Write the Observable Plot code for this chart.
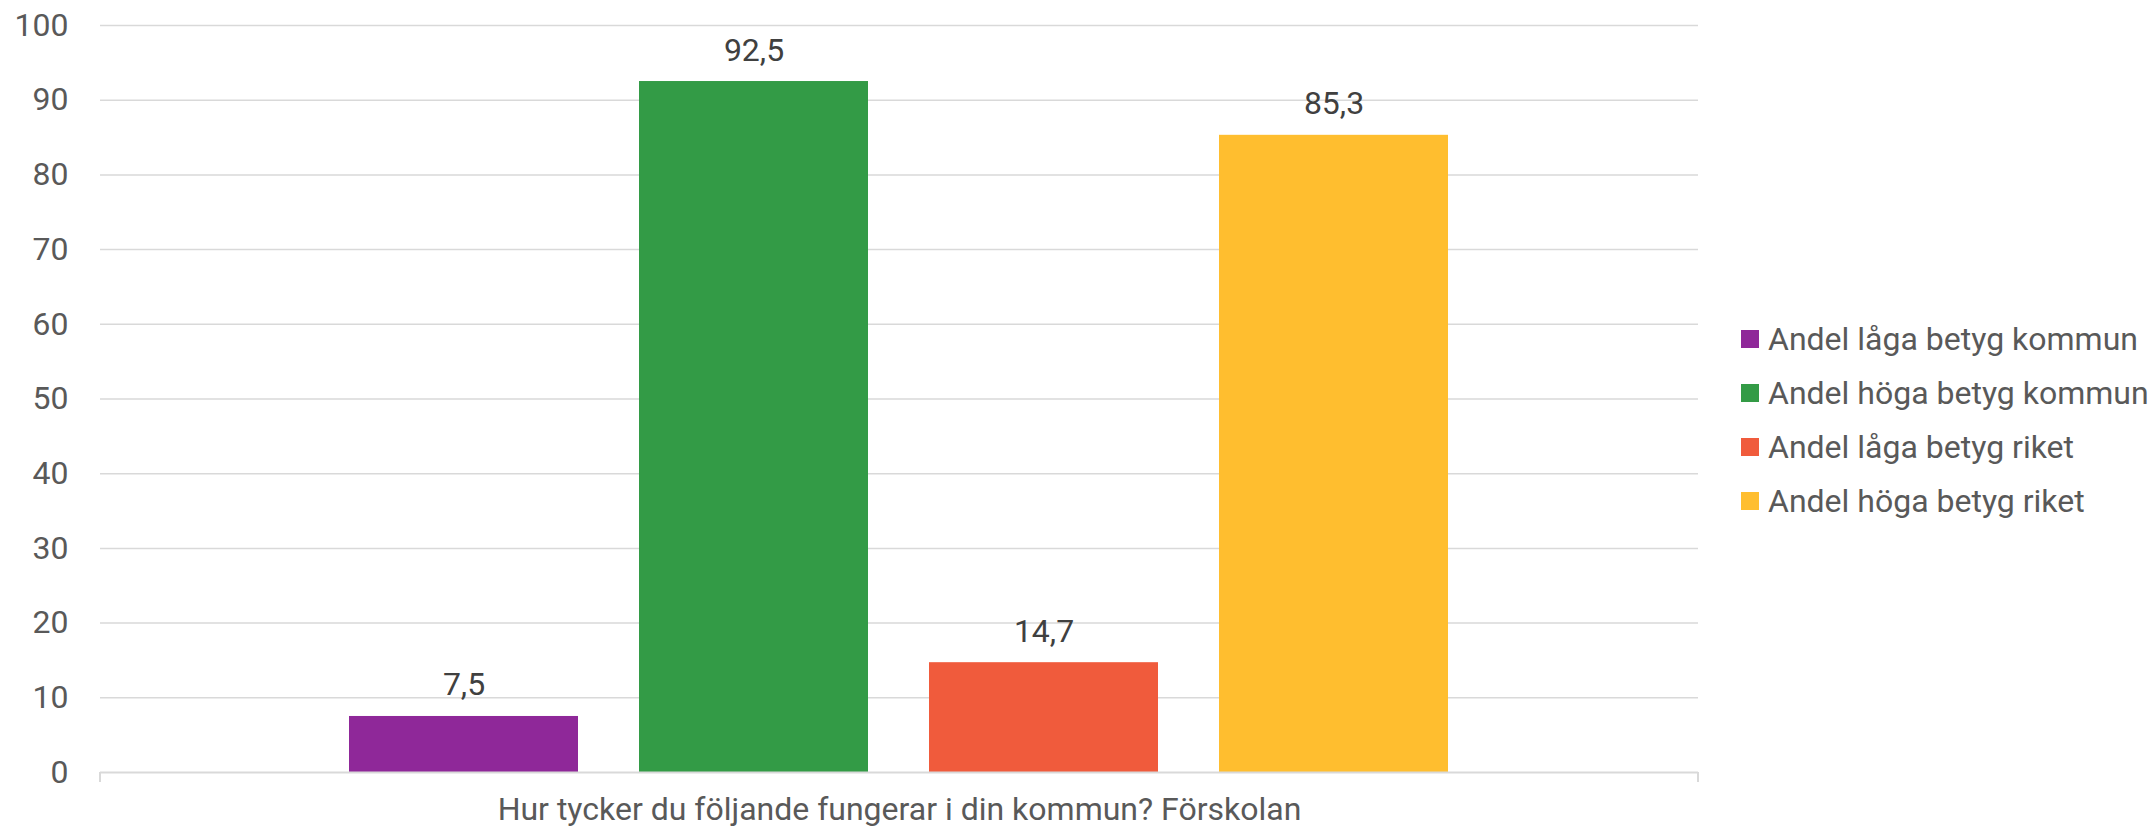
<!DOCTYPE html>
<html>
<head>
<meta charset="utf-8">
<script src="https://cdn.jsdelivr.net/npm/d3@7"></script>
<script src="https://cdn.jsdelivr.net/npm/@observablehq/plot@0.6"></script>
<style>
  html, body { margin: 0; padding: 0; background: #fff; }
  body { width: 2149px; height: 829px; overflow: hidden; position: relative; font-family: Roboto, sans-serif; }
  #legend { position: absolute; left: 1741px; top: 312px; font-size: 32px; color: #595959; }
  #legend .row { display: flex; align-items: center; height: 54px; white-space: nowrap; }
  #legend .sw { width: 18px; height: 18px; margin-right: 9px; flex: none; }
</style>
</head>
<body>
<div id="chart"></div>
<div id="legend"></div>
<script>
const category = "Hur tycker du följande fungerar i din kommun? Förskolan";
const series = ["Andel låga betyg kommun", "Andel höga betyg kommun", "Andel låga betyg riket", "Andel höga betyg riket"];
const values = [7.5, 92.5, 14.7, 85.3];
const colors = ["#8f2899", "#339b46", "#f05b3c", "#ffbe2f"];
const yTicks = [0, 10, 20, 30, 40, 50, 60, 70, 80, 90, 100];

const data = series.map((s, i) => ({series: s, value: values[i], label: String(values[i]).replace(".", ",")}));
const fmt = d => String(d).replace(".", ",");

const plot = Plot.plot({
  width: 2149,
  height: 829,
  marginLeft: 100,
  marginRight: 451,
  marginTop: 25,
  marginBottom: 57,
  style: {fontFamily: "Roboto, sans-serif", fontSize: "32px", color: "#595959", background: "transparent"},
  x: {domain: series, paddingInner: 0.21, paddingOuter: 0.86, axis: null},
  y: {domain: [0, 100], ticks: yTicks, axis: null},
  color: {domain: series, range: colors},
  marks: [
    Plot.ruleY(yTicks.filter(d => d > 0), {stroke: "#d9d9d9", strokeWidth: 1.5}),
    Plot.axisY({ticks: yTicks, tickSize: 0, tickPadding: 32, label: null, tickFormat: fmt, fill: "#595959", fontSize: 32}),
    Plot.barY(data, {x: "series", y: "value", fill: "series"}),
    Plot.ruleY([0], {stroke: "#d9d9d9", strokeWidth: 2}),
    Plot.text(data, {x: "series", y: "value", text: "label", dy: -21, lineAnchor: "bottom", fill: "#404040", fontSize: 32}),
    Plot.text([category], {frameAnchor: "bottom", dy: 47, lineAnchor: "bottom", text: d => d, fill: "#595959", fontSize: 32})
  ]
});
document.getElementById("chart").appendChild(plot);

// small end ticks of the category axis at the frame edges
const y = plot.scale("y");
const svg = d3.select(plot);
const y0 = y.apply(0);
[100, 2149 - 451].forEach(xp => {
  svg.append("line").attr("x1", xp).attr("x2", xp).attr("y1", y0).attr("y2", y0 + 10)
    .attr("stroke", "#d9d9d9").attr("stroke-width", 2);
});

const legend = d3.select("#legend");
series.forEach((s, i) => {
  const row = legend.append("div").attr("class", "row");
  row.append("div").attr("class", "sw").style("background", colors[i]);
  row.append("span").text(s);
});
</script>
</body>
</html>
